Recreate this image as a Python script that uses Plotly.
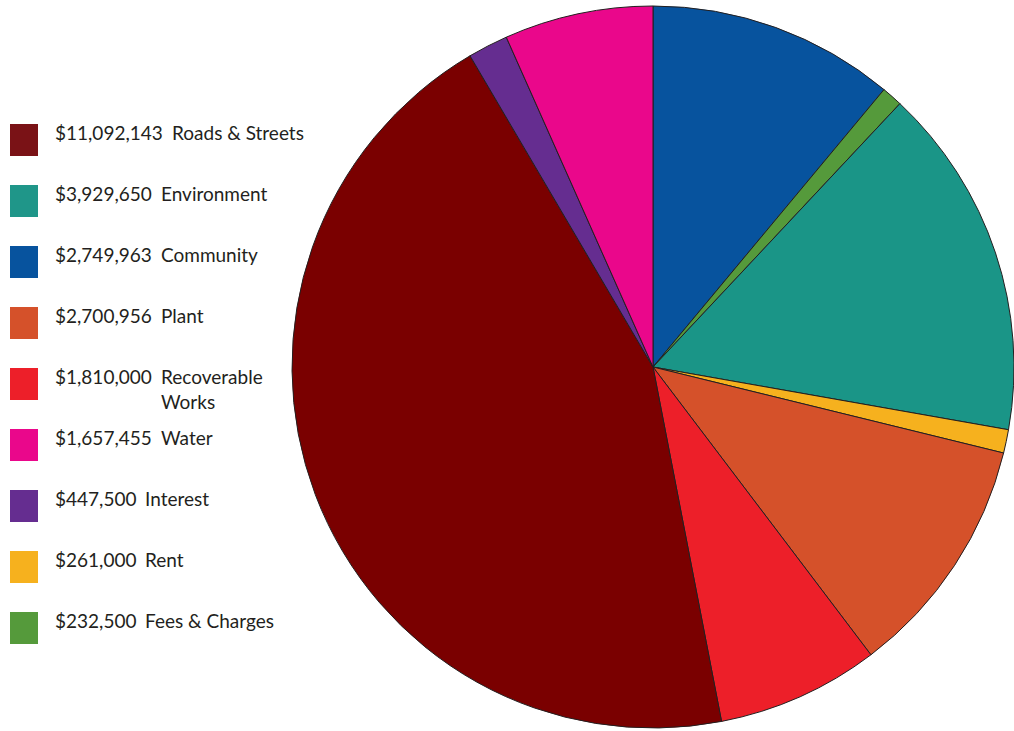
import plotly.graph_objects as go

# ---- data (legend order) ----
categories = ["Roads & Streets", "Environment", "Community", "Plant",
              "Recoverable Works", "Water", "Interest", "Rent", "Fees & Charges"]
values = [11092143, 3929650, 2749963, 2700956, 1810000, 1657455, 447500, 261000, 232500]
value_labels = ["$11,092,143", "$3,929,650", "$2,749,963", "$2,700,956", "$1,810,000",
                "$1,657,455", "$447,500", "$261,000", "$232,500"]
legend_text = ["Roads & Streets", "Environment", "Community", "Plant",
               "Recoverable<br>Works", "Water", "Interest", "Rent", "Fees & Charges"]
colors = ["#7a0000", "#1a9587", "#07539e", "#d5512a", "#ed1f29",
          "#ea078b", "#652d90", "#f6b11e", "#559a3b"]
legend_colors = ["#7a1216", "#1f9689", "#07539e", "#d5512a", "#ed1f29",
                 "#ea078b", "#652d90", "#f6b11e", "#559a3b"]
# clockwise order of slices starting at 12 o'clock
pie_order = ["Community", "Fees & Charges", "Environment", "Rent", "Plant",
             "Recoverable Works", "Roads & Streets", "Interest", "Water"]

W, H = 1014, 731
idx = [categories.index(c) for c in pie_order]

fig = go.Figure(go.Pie(
    labels=[categories[i] for i in idx],
    values=[values[i] for i in idx],
    marker=dict(colors=[colors[i] for i in idx], line=dict(color="#231f20", width=1)),
    sort=False, direction="clockwise", rotation=0,
    textinfo="none", hoverinfo="label+value+percent",
    showlegend=False,
    domain=dict(x=[292 / W, 1], y=[2 / H, 726 / H]),
))

def px(x):
    return x / W

def py(y):
    return 1 - y / H

def val_width(s):
    w = 0
    for ch in s:
        if ch.isdigit():
            w += 11
        elif ch == ",":
            w += 5
        elif ch == "$":
            w += 9
    return w

shapes = []
annotations = []
font = dict(family="Lato, 'Open Sans', sans-serif", size=19, color="#231f20")
for k in range(len(categories)):
    top = 124 + 61 * k
    shapes.append(dict(type="rect", xref="paper", yref="paper",
                       x0=px(10), x1=px(38), y0=py(top + 32), y1=py(top),
                       fillcolor=legend_colors[k], line=dict(width=0)))
    ty = top - 5
    annotations.append(dict(xref="paper", yref="paper", x=px(53), y=py(ty),
                            xanchor="left", yanchor="top", text=value_labels[k],
                            showarrow=False, font=font, align="left"))
    lx = 53 + val_width(value_labels[k]) + 10
    annotations.append(dict(xref="paper", yref="paper", x=px(lx), y=py(ty),
                            xanchor="left", yanchor="top", text=legend_text[k],
                            showarrow=False, font=font, align="left"))

fig.update_layout(
    width=W, height=H,
    margin=dict(l=0, r=0, t=0, b=0),
    paper_bgcolor="white", plot_bgcolor="white",
    shapes=shapes, annotations=annotations,
)

fig.write_html("out.html")
